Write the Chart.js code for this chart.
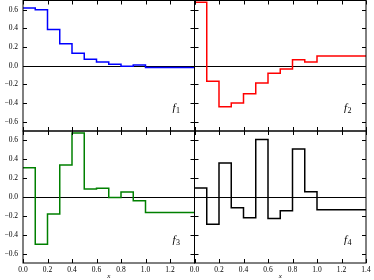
<!DOCTYPE html>
<html><head><meta charset="utf-8">
<script src="https://cdn.jsdelivr.net/npm/chart.js@4"></script>
<style>
html,body{margin:0;padding:0;background:#fff;width:374px;height:280px;overflow:hidden}
canvas{position:absolute;left:0;top:0}
</style>
</head><body>
<canvas id="c1" width="374" height="280"></canvas>
<canvas id="c2" width="374" height="280"></canvas>
<canvas id="c3" width="374" height="280"></canvas>
<canvas id="c4" width="374" height="280"></canvas>
<script>
// bin edges along x
const edges = [0, 0.1, 0.2, 0.3, 0.4, 0.5, 0.6, 0.7, 0.8, 0.9, 1.0, 1.4];
// step values on each bin
const f1 = [0.62, 0.60, 0.39, 0.235, 0.135, 0.07, 0.04, 0.015, -0.005, 0.008, -0.02];
const f2 = [0.68, -0.165, -0.44, -0.40, -0.30, -0.185, -0.08, -0.035, 0.065, 0.04, 0.105];
const f3 = [0.31, -0.50, -0.18, 0.34, 0.68, 0.085, 0.092, -0.005, 0.053, -0.04, -0.165];
const f4 = [0.096, -0.29, 0.36, -0.115, -0.22, 0.61, -0.227, -0.145, 0.51, 0.057, -0.135];
const xTicks = [0, 0.2, 0.4, 0.6, 0.8, 1.0, 1.2, 1.4];
const yTicks = [-0.6, -0.4, -0.2, 0, 0.2, 0.4, 0.6];

const FONT = "'Liberation Serif', 'DejaVu Serif', serif";
const W = 374, H = 280;

function fmt(v){ return (v < 0 ? '\u2212' : '') + Math.abs(v).toFixed(1); }

function makePoints(vals){
  return edges.map((e, i) => ({x: e, y: vals[Math.min(i, vals.length - 1)]}));
}

const framePlugin = {
  id: 'frame',
  beforeDatasetsDraw(chart){
    const {ctx, chartArea: a, scales} = chart;
    const y0 = Math.round(scales.y.getPixelForValue(0)) + 0.5;
    ctx.save();
    ctx.strokeStyle = '#000'; ctx.lineWidth = 1;
    ctx.beginPath(); ctx.moveTo(a.left, y0); ctx.lineTo(a.right, y0); ctx.stroke();
    ctx.restore();
  },
  afterDraw(chart, args, opts){
    const {ctx, chartArea: a, scales} = chart;
    ctx.save();
    ctx.strokeStyle = '#000'; ctx.lineWidth = 1;
    ctx.strokeRect(a.left, a.top, a.right - a.left, a.bottom - a.top);
    const tl = 4;
    ctx.beginPath();
    xTicks.forEach(v => {
      const x = Math.round(scales.x.getPixelForValue(v)) + 0.5;
      ctx.moveTo(x, a.bottom); ctx.lineTo(x, a.bottom - tl);
      ctx.moveTo(x, a.top); ctx.lineTo(x, a.top + tl);
    });
    yTicks.forEach(v => {
      const y = Math.round(scales.y.getPixelForValue(v)) + 0.5;
      ctx.moveTo(a.left, y); ctx.lineTo(a.left + tl, y);
      ctx.moveTo(a.right, y); ctx.lineTo(a.right - tl, y);
    });
    ctx.stroke();
    // panel label
    ctx.fillStyle = '#000';
    ctx.textBaseline = 'alphabetic';
    ctx.font = "italic 11px " + FONT;
    const lx = a.right - 22, ly = a.bottom - 20;
    ctx.fillText('f', lx, ly);
    const fw = ctx.measureText('f').width;
    ctx.font = "8px " + FONT;
    ctx.fillText(opts.sub, lx + fw + 0.5, ly + 2);
    ctx.restore();
  }
};

function makeChart(id, vals, color, sub, area, showY, showX, xLabelTicks){
  const yW = showY ? 23 : 0;
  const xH = showX ? 17 : 0;
  new Chart(document.getElementById(id), {
    type: 'line',
    data: { datasets: [{
      data: makePoints(vals),
      stepped: 'before',
      borderColor: color,
      borderWidth: 1.5,
      pointRadius: 0,
      fill: false
    }]},
    options: {
      responsive: false,
      animation: false,
      events: [],
      layout: { padding: {
        left: area.left - yW,
        right: W - area.right,
        top: area.top,
        bottom: H - area.bottom - xH
      }},
      plugins: { legend: {display: false}, tooltip: {enabled: false}, frame: {sub: sub} },
      scales: {
        x: {
          type: 'linear', min: 0, max: 1.4,
          afterBuildTicks: s => { s.ticks = xLabelTicks.map(v => ({value: v})); },
          afterFit: s => { s.height = xH; s.paddingLeft = 0; s.paddingRight = 0; },
          grid: {display: false, drawTicks: false},
          border: {display: false},
          ticks: {display: showX, padding: 3, color: '#000', font: {family: FONT, size: 7.5}, callback: v => fmt(v), maxRotation: 0, autoSkip: false},
          title: {display: showX, text: 'x', color: '#000', padding: {top: 0, bottom: 0}, font: {family: FONT, size: 7, style: 'italic'}}
        },
        y: {
          type: 'linear', min: -0.7, max: 0.7,
          afterBuildTicks: s => { s.ticks = yTicks.map(v => ({value: v})); },
          afterFit: s => { s.width = yW; s.paddingTop = 0; s.paddingBottom = 0; },
          grid: {display: false, drawTicks: false},
          border: {display: false},
          ticks: {display: showY, padding: 5, color: '#000', font: {family: FONT, size: 7.5}, callback: v => fmt(v), autoSkip: false}
        }
      }
    },
    plugins: [framePlugin]
  });
}

const L = {left: 23, right: 194.5}, R = {left: 194.5, right: 366};
const T = {top: 0.5, bottom: 131}, B = {top: 131, bottom: 263};
const leftXLabels = xTicks.slice(0, xTicks.length - 1);
makeChart('c1', f1, '#0000ff', '1', {left: L.left, right: L.right, top: T.top, bottom: T.bottom}, true, false, xTicks);
makeChart('c2', f2, '#ff0000', '2', {left: R.left, right: R.right, top: T.top, bottom: T.bottom}, false, false, xTicks);
makeChart('c3', f3, '#008000', '3', {left: L.left, right: L.right, top: B.top, bottom: B.bottom}, true, true, leftXLabels);
makeChart('c4', f4, '#000000', '4', {left: R.left, right: R.right, top: B.top, bottom: B.bottom}, false, true, xTicks);
</script>
</body></html>
